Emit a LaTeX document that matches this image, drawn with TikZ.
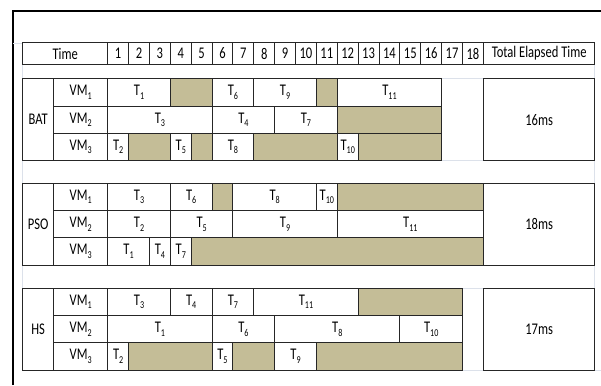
\documentclass[tikz,border=0pt]{standalone}
\usepackage{fontspec}
\setmainfont[FakeStretch=0.77]{Carlito}
\definecolor{tanfill}{HTML}{C4BD97}
\definecolor{faintline}{HTML}{DCE1EA}
\newcommand\sbs[1]{\raisebox{-0.22em}{\fontsize{10.5}{10.5}\selectfont #1}}
\newcommand\TT[1]{T\sbs{#1}}
\newcommand\VMl[1]{VM\sbs{#1}}
% task cell: name, start edge, end edge, row top, text
\newcommand\gcell[5]{%
  \draw[task] ({107.7+20.87*#2},#4) rectangle ({107.7+20.87*#3},{#4+27.3});
  \node[lbl] (#1) at ({107.7+20.87*(#2+#3)/2},{#4+13.65}) {#5};}
% idle cell: start edge, end edge, row top
\newcommand\icell[3]{%
  \draw[idle] ({107.7+20.87*#1},#3) rectangle ({107.7+20.87*#2},{#3+27.3});}
% block: prefix, label, top, total text
\newcommand\gblock[4]{%
  \draw[grid] (22.7,#3) rectangle (53.7,{#3+81.9});
  \node[lbl] (#1lab) at (38.2,{#3+40.95}) {#2};
  \draw[grid] (53.7,#3) rectangle (107.7,{#3+27.3});
  \node[lbl] (#1vm1) at (80.7,{#3+13.65}) {\VMl{1}};
  \draw[grid] (53.7,{#3+27.3}) rectangle (107.7,{#3+54.6});
  \node[lbl] (#1vm2) at (80.7,{#3+40.95}) {\VMl{2}};
  \draw[grid] (53.7,{#3+54.6}) rectangle (107.7,{#3+81.9});
  \node[lbl] (#1vm3) at (80.7,{#3+68.25}) {\VMl{3}};
  \draw[grid] (483.7,#3) rectangle (594.7,{#3+81.9});
  \node[lbl] (#1tot) at (539.2,{#3+40.95}) {#4};}
\begin{document}
\begin{tikzpicture}[x=1pt,y=-1pt,font=\fontsize{16.3}{18}\selectfont,
  grid/.style={draw=black!85,line width=0.9pt},
  task/.style={grid,fill=white},
  idle/.style={grid,fill=tanfill},
  faint/.style={draw=faintline,line width=0.8pt},
  frame/.style={draw=black,line width=1.8pt},
  lbl/.style={inner sep=0pt,anchor=center}]
\useasboundingbox (0,0) rectangle (601,385);
% outer frame
\draw[frame] (13.3,385) -- (13.3,10.7) -- (601,10.7);
% faint table lines
\draw[faint] (13.3,43) -- (22.7,43);
\draw[faint] (22.7,42.3) -- (22.7,370.2);
\draw[faint] (594.7,42.3) -- (594.7,370.2) -- (601,370.2);
\draw[faint] (442.3,78.7) -- (483.7,78.7);
\draw[faint] (442.3,160.6) -- (483.7,160.6);
\draw[faint] (463,288.3) -- (483.7,288.3);
\draw[faint] (463,370.2) -- (483.7,370.2);
% header
\draw[grid] (22.7,42.3) rectangle (107.7,64.7);
\node[lbl] (time) at (65.2,53.5) {Time};
\foreach \k in {1,...,18}{
  \draw[grid] ({107.7+20.87*(\k-1)},42.3) rectangle ({107.7+20.87*\k},64.7);
  \node[lbl] (h\k) at ({107.7+20.87*(\k-0.5)},53.5) {\k};
}
\draw[grid] (483.7,42.3) rectangle (594.7,64.7);
\node[lbl] (total) at (539.2,53.5) {Total Elapsed Time};

% BAT
\gblock{bat}{BAT}{78.7}{16ms}
\gcell{bat11}{0}{3}{78.7}{\TT{1}}
\icell{3}{5}{78.7}
\gcell{bat16}{5}{7}{78.7}{\TT{6}}
\gcell{bat19}{7}{10}{78.7}{\TT{9}}
\icell{10}{11}{78.7}
\gcell{bat111}{11}{16}{78.7}{\TT{11}}
\gcell{bat23}{0}{5}{106}{\TT{3}}
\gcell{bat24}{5}{8}{106}{\TT{4}}
\gcell{bat27}{8}{11}{106}{\TT{7}}
\icell{11}{16}{106}
\gcell{bat32}{0}{1}{133.3}{\TT{2}}
\icell{1}{3}{133.3}
\gcell{bat35}{3}{4}{133.3}{\TT{5}}
\icell{4}{5}{133.3}
\gcell{bat38}{5}{7}{133.3}{\TT{8}}
\icell{7}{11}{133.3}
\gcell{bat310}{11}{12}{133.3}{\TT{10}}
\icell{12}{16}{133.3}

% PSO
\gblock{pso}{PSO}{183.3}{18ms}
\gcell{pso13}{0}{3}{183.3}{\TT{3}}
\gcell{pso16}{3}{5}{183.3}{\TT{6}}
\icell{5}{6}{183.3}
\gcell{pso18}{6}{10}{183.3}{\TT{8}}
\gcell{pso110}{10}{11}{183.3}{\TT{10}}
\icell{11}{18}{183.3}
\gcell{pso22}{0}{3}{210.6}{\TT{2}}
\gcell{pso25}{3}{6}{210.6}{\TT{5}}
\gcell{pso29}{6}{11}{210.6}{\TT{9}}
\gcell{pso211}{11}{18}{210.6}{\TT{11}}
\gcell{pso31}{0}{2}{237.9}{\TT{1}}
\gcell{pso34}{2}{3}{237.9}{\TT{4}}
\gcell{pso37}{3}{4}{237.9}{\TT{7}}
\icell{4}{18}{237.9}

% HS
\gblock{hs}{HS}{288.3}{17ms}
\gcell{hs13}{0}{3}{288.3}{\TT{3}}
\gcell{hs14}{3}{5}{288.3}{\TT{4}}
\gcell{hs17}{5}{7}{288.3}{\TT{7}}
\gcell{hs111}{7}{12}{288.3}{\TT{11}}
\icell{12}{17}{288.3}
\gcell{hs21}{0}{5}{315.6}{\TT{1}}
\gcell{hs26}{5}{8}{315.6}{\TT{6}}
\gcell{hs28}{8}{14}{315.6}{\TT{8}}
\gcell{hs210}{14}{17}{315.6}{\TT{10}}
\gcell{hs32}{0}{1}{342.9}{\TT{2}}
\icell{1}{5}{342.9}
\gcell{hs35}{5}{6}{342.9}{\TT{5}}
\icell{6}{8}{342.9}
\gcell{hs39}{8}{10}{342.9}{\TT{9}}
\icell{10}{17}{342.9}
\end{tikzpicture}
\end{document}
